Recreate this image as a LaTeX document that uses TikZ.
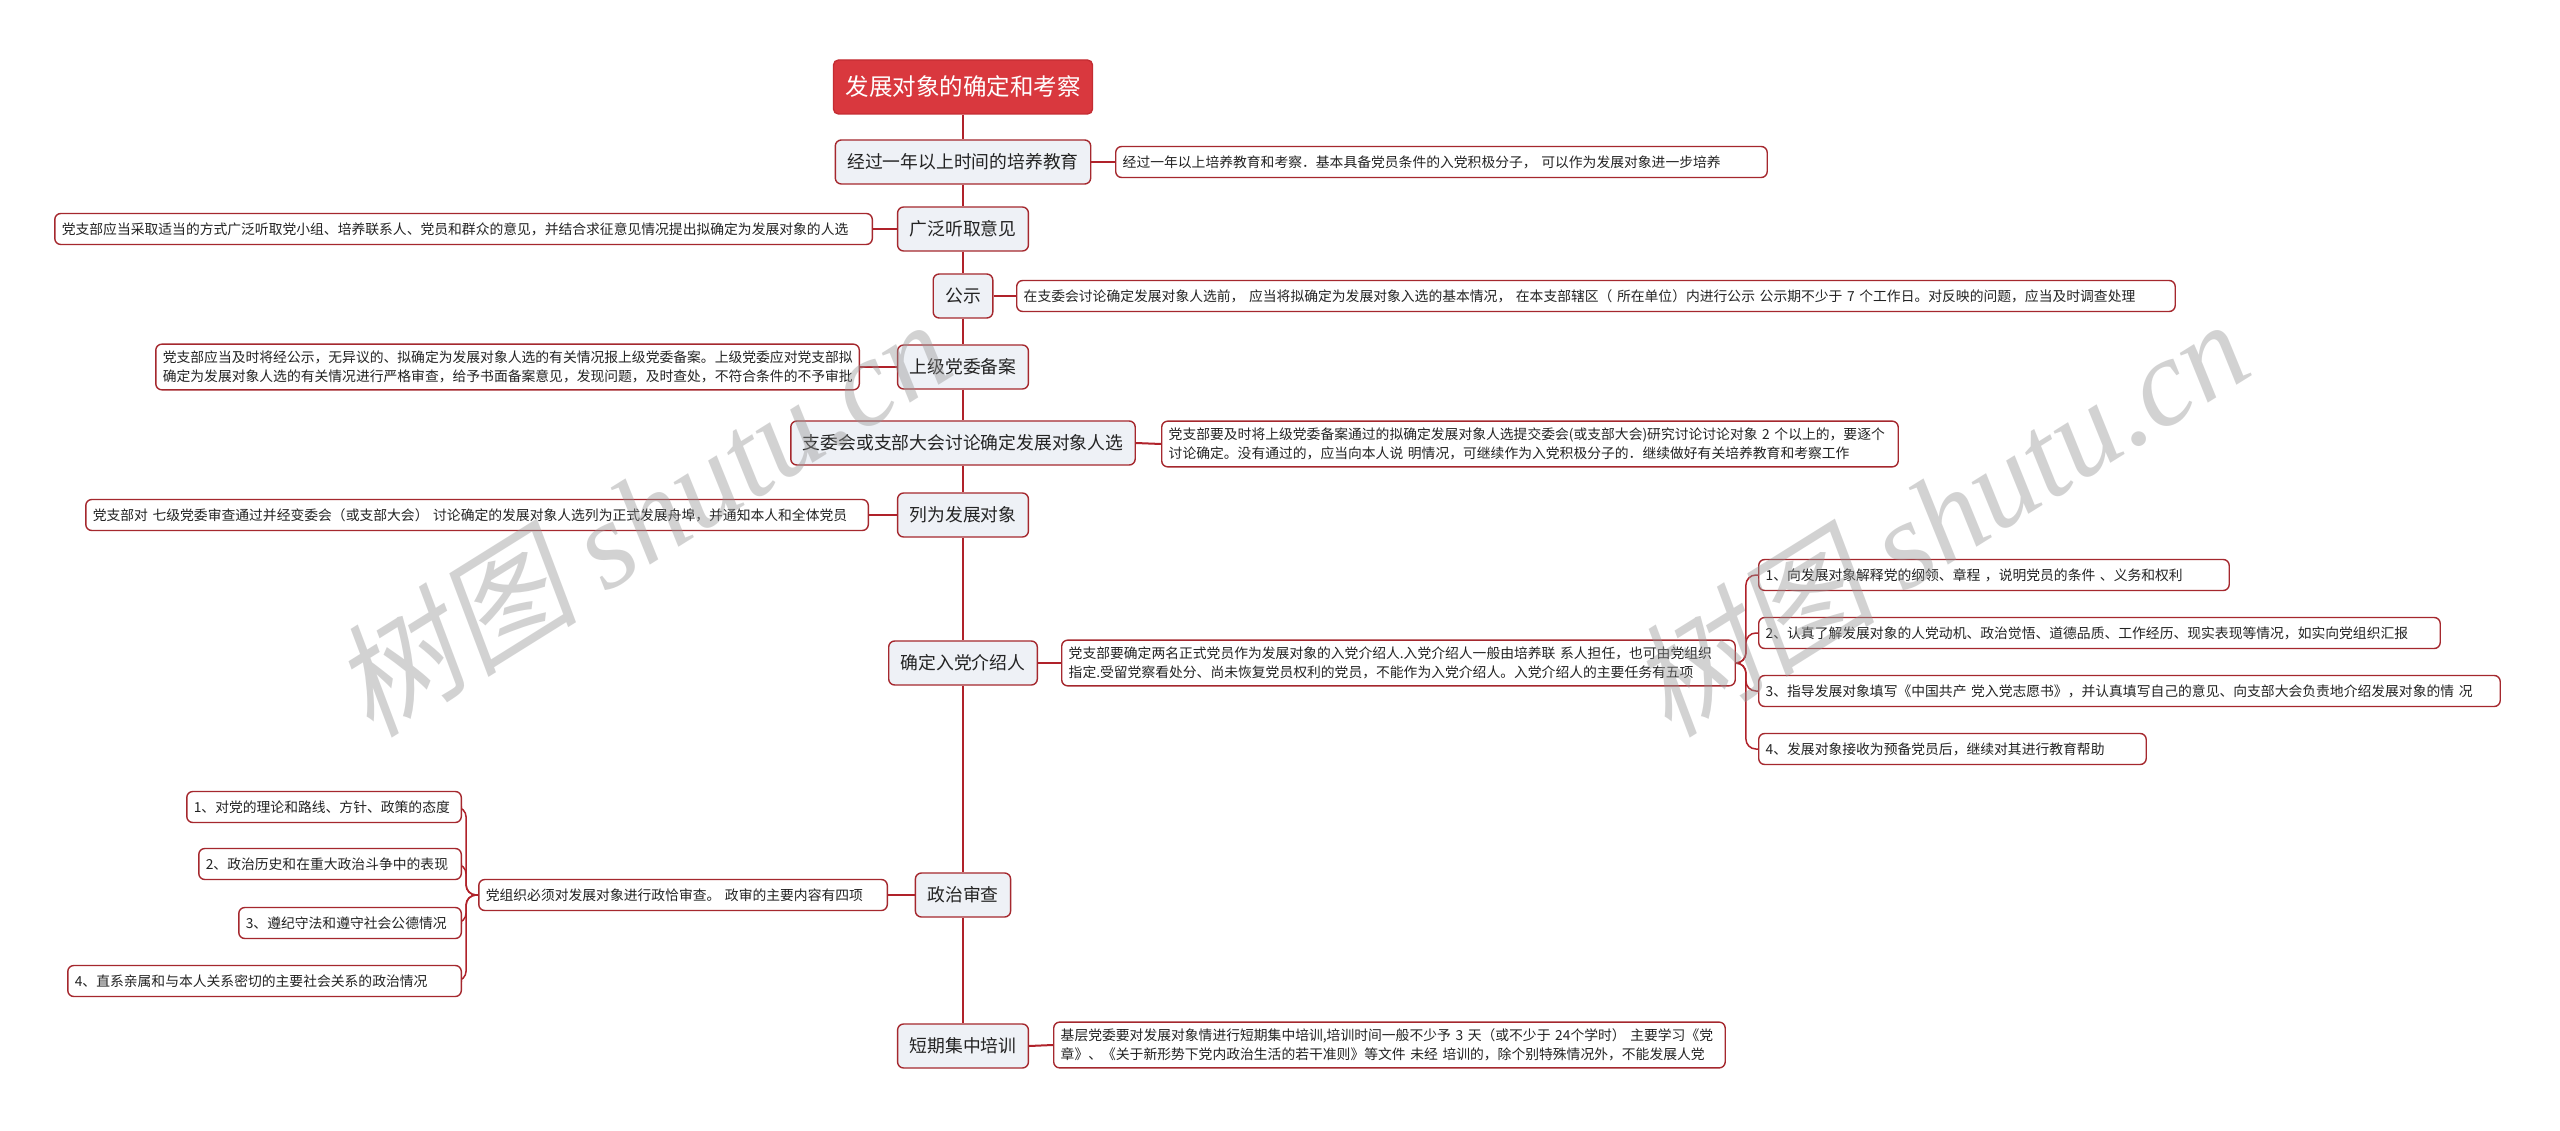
\documentclass[tikz,border=0pt]{standalone}
\usepackage{fontspec}
\usetikzlibrary{backgrounds}
\setmainfont{Noto Sans CJK SC}
\newfontfamily\wmlatin{Liberation Serif}
\newfontfamily\wmcjk[FakeSlant=0.2]{Noto Sans CJK SC}
\definecolor{linecol}{RGB}{176,34,42}
\definecolor{bordercol}{RGB}{165,40,46}
\definecolor{mainfill}{RGB}{238,241,246}
\definecolor{rootfill}{RGB}{217,56,62}
\definecolor{rootborder}{RGB}{196,44,50}
\definecolor{textcol}{RGB}{35,35,35}
\definecolor{wmcol}{RGB}{150,150,150}
\newcommand\fsRoot{\fontsize{23.5pt}{28pt}\selectfont}
\newcommand\fsMain{\fontsize{17.8pt}{22pt}\selectfont}
\newcommand\fsDesc{\fontsize{13.8pt}{19.5pt}\selectfont}
\newcommand\fsWm{\fontsize{124pt}{130pt}\selectfont}
\tikzset{
  rootnode/.style={draw=rootborder, fill=rootfill, line width=1.4pt, rounded corners=5pt,
    minimum height=54pt, inner xsep=12pt, inner ysep=0pt, font=\fsRoot, text=white},
  mainnode/.style={draw=bordercol, fill=mainfill, line width=1.4pt, rounded corners=6pt,
    minimum height=44pt, inner xsep=12pt, inner ysep=0pt, font=\fsMain, text=textcol},
  descnode/.style={draw=bordercol, fill=white, line width=1.4pt, rounded corners=6pt,
    minimum height=31pt, inner xsep=7pt, inner ysep=6.5pt, align=left, font=\fsDesc, text=textcol},
  spine/.style={draw=linecol, line width=2.4pt},
  branch/.style={draw=linecol, line width=2pt},
  twig/.style={draw=linecol, line width=1.5pt, rounded corners=10pt},
  wmark/.style={text=wmcol, opacity=0.42, rotate=32, inner sep=0pt},
}
\begin{document}
\begin{tikzpicture}[x=1pt,y=-1pt]
\useasboundingbox (0,0) rectangle (2560,1131);

% root and main nodes
\node[rootnode] (root) at (963,87) {发展对象的确定和考察};
\node[mainnode] (m1) at (963,162) {经过一年以上时间的培养教育};
\node[mainnode] (m2) at (963,229) {广泛听取意见};
\node[mainnode] (m3) at (963,296) {公示};
\node[mainnode] (m4) at (963,367) {上级党委备案};
\node[mainnode] (m5) at (963,443) {支委会或支部大会讨论确定发展对象人选};
\node[mainnode] (m6) at (963,515) {列为发展对象};
\node[mainnode] (m7) at (963,663) {确定入党介绍人};
\node[mainnode] (m8) at (963,895) {政治审查};
\node[mainnode] (m9) at (963,1046) {短期集中培训};

% descriptions
\node[descnode, anchor=west, text width=637.5pt] (d1) at (1115,162)
  {经过一年以上培养教育和考察．基本具备党员条件的入党积极分子， 可以作为发展对象进一步培养};
\node[descnode, anchor=east, text width=803.5pt] (d2) at (873,229)
  {党支部应当采取适当的方式广泛听取党小组、培养联系人、党员和群众的意见，并结合求征意见情况提出拟确定为发展对象的人选};
\node[descnode, anchor=west, text width=1144.5pt] (d3) at (1016,296)
  {在支委会讨论确定发展对象人选前， 应当将拟确定为发展对象入选的基本情况， 在本支部辖区（ 所在单位）内进行公示 公示期不少于 7 个工作日。对反映的问题，应当及时调查处理};
\node[descnode, anchor=east, text width=689.5pt] (d4) at (860,367)
  {党支部应当及时将经公示，无异议的、拟确定为发展对象人选的有关情况报上级党委备案。上级党委应对党支部拟\\确定为发展对象人选的有关情况进行严格审查，给予书面备案意见，发现问题，及时查处，不符合条件的不予审批};
\node[descnode, anchor=west, text width=722.5pt] (d5) at (1161,444)
  {党支部要及时将上级党委备案通过的拟确定发展对象人选提交委会(或支部大会)研究讨论讨论对象 2 个以上的，要逐个\\讨论确定。没有通过的，应当向本人说 明情况，可继续作为入党积极分子的．继续做好有关培养教育和考察工作};
\node[descnode, anchor=east, text width=768.5pt] (d6) at (869,515)
  {党支部对 七级党委审查通过并经变委会（或支部大会） 讨论确定的发展对象人选列为正式发展舟埠，并通知本人和全体党员};
\node[descnode, anchor=west, text width=659.5pt] (d7) at (1061,663)
  {党支部要确定两名正式党员作为发展对象的入党介绍人.入党介绍人一般由培养联 系人担任，也可由党组织\\指定.受留党察看处分、尚未恢复党员权利的党员，不能作为入党介绍人。入党介绍人的主要任务有五项};
\node[descnode, anchor=east, text width=394.5pt] (dz) at (888,895)
  {党组织必须对发展对象进行政恰审查。~政审的主要内容有四项};
\node[descnode, anchor=west, text width=657.5pt] (d9) at (1053,1045)
  {基层党委要对发展对象情进行短期集中培训,培训时间一般不少予 3 天（或不少于 24个学时） 主要学习《党\\章》、《关于新形势下党内政治生活的若干准则》等文件 未经 培训的，除个别特殊情况外，不能发展人党};

% sub items right
\node[descnode, anchor=west, text width=456.5pt] (i1) at (1758,575)
  {1、向发展对象解释党的纲领、章程 ，说明党员的条件 、义务和权利};
\node[descnode, anchor=west, text width=667.5pt] (i2) at (1758,633)
  {2、认真了解发展对象的人党动机、政治觉悟、道德品质、工作经历、现实表现等情况，如实向党组织汇报};
\node[descnode, anchor=west, text width=727.5pt] (i3) at (1758,691)
  {3、指导发展对象填写《中国共产 党入党志愿书》，并认真填写自己的意见、向支部大会负责地介绍发展对象的情 况};
\node[descnode, anchor=west, text width=373.5pt] (i4) at (1758,749)
  {4、发展对象接收为预备党员后，继续对其进行教育帮助};

% sub items left
\node[descnode, anchor=east, text width=260.5pt] (z1) at (462,807)
  {1、对党的理论和路线、方针、政策的态度};
\node[descnode, anchor=east, text width=248.5pt] (z2) at (462,864)
  {2、政治历史和在重大政治斗争中的表现};
\node[descnode, anchor=east, text width=208.5pt] (z3) at (462,923)
  {3、遵纪守法和遵守社会公德情况};
\node[descnode, anchor=east, text width=379.5pt] (z4) at (462,981)
  {4、直系亲属和与本人关系密切的主要社会关系的政治情况};

\coordinate (b7) at ([xshift=10pt]d7.east);
\coordinate (bz) at ([xshift=-12pt]dz.west);

% connectors (behind nodes)
\begin{scope}[on background layer]
\fill[white] (0,0) rectangle (2560,1131);
\path[spine] (root.south) -- (m1.north);
\path[spine] (m1.south) -- (m2.north);
\path[spine] (m2.south) -- (m3.north);
\path[spine] (m3.south) -- (m4.north);
\path[spine] (m4.south) -- (m5.north);
\path[spine] (m5.south) -- (m6.north);
\path[spine] (m6.south) -- (m7.north);
\path[spine] (m7.south) -- (m8.north);
\path[spine] (m8.south) -- (m9.north);

\path[branch] (m1.east) -- (d1.west);
\path[branch] (m2.west) -- (d2.east);
\path[branch] (m3.east) -- (d3.west);
\path[branch] (m4.west) -- (d4.east);
\path[branch] (m5.east) -- (d5.west);
\path[branch] (m6.west) -- (d6.east);
\path[branch] (m7.east) -- (d7.west);
\path[branch] (m8.west) -- (dz.east);
\path[branch] (m9.east) -- (d9.west);

\path[twig] (d7.east) -- (b7) |- (i1.west);
\path[twig] (d7.east) -- (b7) |- (i2.west);
\path[twig] (d7.east) -- (b7) |- (i3.west);
\path[twig] (d7.east) -- (b7) |- (i4.west);

\path[twig] (dz.west) -- (bz) |- (z1.east);
\path[twig] (dz.west) -- (bz) |- (z2.east);
\path[twig] (dz.west) -- (bz) |- (z3.east);
\path[twig] (dz.west) -- (bz) |- (z4.east);
\end{scope}

% watermarks
\node[wmark] (wm1) at (640,516) {\fsWm\wmcjk 树图 \wmlatin\itshape shutu.cn};
\node[wmark] (wm2) at (1938,516) {\fsWm\wmcjk 树图 \wmlatin\itshape shutu.cn};
\end{tikzpicture}
\end{document}
